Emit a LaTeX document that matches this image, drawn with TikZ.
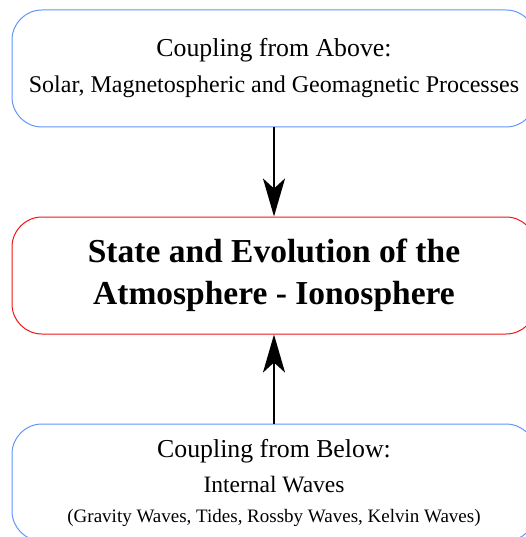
\documentclass[tikz,border=0pt]{standalone}
\usepackage{fontspec}
\setmainfont{Liberation Serif}
\usetikzlibrary{positioning}
\usetikzlibrary{arrows.meta}

\definecolor{couplingblue}{RGB}{95,150,250}
\definecolor{statered}{RGB}{240,20,20}

\begin{document}
\begin{tikzpicture}[x=1pt, y=-1pt,
    couplingbox/.style={draw=couplingblue, line width=1pt, rounded corners=30pt,
      minimum width=524pt, minimum height=117pt, align=center, inner sep=0pt},
    statebox/.style={draw=statered, line width=1pt, rounded corners=30pt,
      minimum width=524pt, minimum height=117pt, align=center, inner sep=0pt},
    flow/.style={line width=2.6pt, -{Stealth[length=38pt, width=22pt, inset=10pt]}}]

  \useasboundingbox (0,0) rectangle (526,537);

  % ---------- Coupling from Above (Top) ----------
  \node[couplingbox, font=\fontsize{24}{36}\selectfont] (above) at (274, 68.5) {
    {\fontsize{25.8}{36}\selectfont Coupling from Above:}\\
    {\fontsize{24}{36}\selectfont Solar, Magnetospheric and Geomagnetic Processes}
  };

  % ---------- State of the Atmosphere - Ionosphere (Middle) ----------
  \node[statebox, font=\fontsize{33.5}{42}\selectfont\bfseries] (state) at (274, 275.5) {
    State and Evolution of the\\
    Atmosphere - Ionosphere
  };

  % ---------- Coupling from Below (Bottom) ----------
  \node[couplingbox, font=\fontsize{23.5}{35}\selectfont] (below) at (274, 482.5) {
    {\fontsize{25.8}{35}\selectfont Coupling from Below:}\\
    {\fontsize{23.5}{35}\selectfont Internal Waves}\\[-5pt]
    {\fontsize{19}{30}\selectfont (Gravity Waves, Tides, Rossby Waves, Kelvin Waves)}
  };

  % ---------- Connections ----------
  \draw[flow] (above.south) -- (state.north);
  \draw[flow] (below.north) -- (state.south);

\end{tikzpicture}
\end{document}
